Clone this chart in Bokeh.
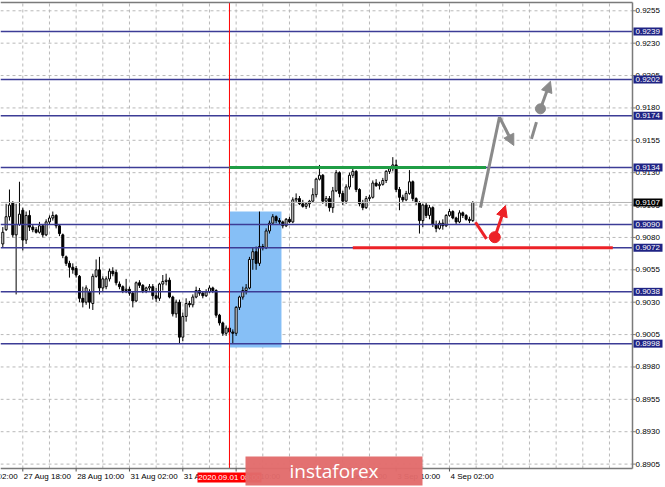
from bokeh.plotting import figure
from bokeh.models import Range1d, Arrow, NormalHead, ColumnDataSource
from bokeh.core.properties import value
from bokeh.embed import file_html
from bokeh.resources import INLINE

# ---- hourly candles (bar index 0 = 27 Aug 12:00) ----
opens = [
    0.9075, 0.9086, 0.9096, 0.9107, 0.9082, 0.9090, 0.9101, 0.9078, 0.9097, 0.9088,
    0.9086, 0.9084, 0.9089, 0.9082, 0.9092, 0.9095, 0.9097, 0.9089, 0.9082, 0.9065,
    0.9060, 0.9057, 0.9056, 0.9050, 0.9033, 0.9030, 0.9038, 0.9029, 0.9050, 0.9055,
    0.9041, 0.9042, 0.9048, 0.9054, 0.9053, 0.9044, 0.9042, 0.9039, 0.9040, 0.9037,
    0.9031, 0.9045, 0.9043, 0.9039, 0.9041, 0.9042, 0.9035, 0.9033, 0.9044, 0.9046,
    0.9047, 0.9034, 0.9021, 0.9030, 0.9003, 0.9019, 0.9029, 0.9028, 0.9034, 0.9039,
    0.9037, 0.9035, 0.9038, 0.9041, 0.9039, 0.9020, 0.9014, 0.9006, 0.9010, 0.9007,
    0.9006, 0.9026, 0.9034, 0.9039, 0.9041, 0.9063, 0.9069, 0.9060, 0.9073, 0.9072,
    0.9085, 0.9091, 0.9096, 0.9093, 0.9092, 0.9089, 0.9094, 0.9092, 0.9109, 0.9110,
    0.9106, 0.9104, 0.9106, 0.9108, 0.9113, 0.9125, 0.9128, 0.9108, 0.9110, 0.9103,
    0.9116, 0.9130, 0.9114, 0.9108, 0.9119, 0.9128, 0.9131, 0.9117, 0.9106, 0.9103,
    0.9110, 0.9111, 0.9122, 0.9120, 0.9121, 0.9124, 0.9131, 0.9133, 0.9136, 0.9117,
    0.9111, 0.9109, 0.9114, 0.9123, 0.9110, 0.9107, 0.9093, 0.9105, 0.9097, 0.9103,
    0.9090, 0.9087, 0.9091, 0.9089, 0.9097, 0.9100, 0.9095, 0.9092, 0.9099, 0.9097,
    0.9094, 0.9093,
]
highs = [
    0.9088, 0.9106, 0.9117, 0.9108, 0.9106, 0.9123, 0.9103, 0.9100, 0.9101, 0.9090,
    0.9088, 0.9092, 0.9090, 0.9094, 0.9097, 0.9100, 0.9098, 0.9090, 0.9083, 0.9066,
    0.9062, 0.9060, 0.9058, 0.9051, 0.9042, 0.9043, 0.9040, 0.9052, 0.9063, 0.9065,
    0.9050, 0.9050, 0.9056, 0.9057, 0.9055, 0.9046, 0.9043, 0.9048, 0.9042, 0.9038,
    0.9046, 0.9047, 0.9044, 0.9042, 0.9044, 0.9044, 0.9041, 0.9045, 0.9051, 0.9052,
    0.9049, 0.9035, 0.9032, 0.9032, 0.9022, 0.9033, 0.9031, 0.9036, 0.9042, 0.9041,
    0.9038, 0.9040, 0.9043, 0.9042, 0.9040, 0.9021, 0.9015, 0.9012, 0.9012, 0.9009,
    0.9027, 0.9035, 0.9042, 0.9044, 0.9065, 0.9072, 0.9073, 0.9100, 0.9075, 0.9087,
    0.9093, 0.9098, 0.9097, 0.9095, 0.9093, 0.9095, 0.9096, 0.9111, 0.9114, 0.9112,
    0.9109, 0.9107, 0.9109, 0.9118, 0.9126, 0.9136, 0.9129, 0.9112, 0.9112, 0.9119,
    0.9132, 0.9131, 0.9116, 0.9121, 0.9130, 0.9134, 0.9132, 0.9118, 0.9109, 0.9112,
    0.9113, 0.9124, 0.9125, 0.9123, 0.9126, 0.9132, 0.9134, 0.9142, 0.9140, 0.9119,
    0.9113, 0.9116, 0.9132, 0.9124, 0.9111, 0.9108, 0.9106, 0.9107, 0.9105, 0.9104,
    0.9093, 0.9093, 0.9094, 0.9098, 0.9102, 0.9101, 0.9096, 0.9101, 0.9100, 0.9098,
    0.9096, 0.9108,
]
lows = [
    0.9072, 0.9085, 0.9093, 0.9080, 0.9036, 0.9089, 0.9070, 0.9075, 0.9085, 0.9084,
    0.9083, 0.9083, 0.9080, 0.9081, 0.9090, 0.9093, 0.9087, 0.9081, 0.9064, 0.9058,
    0.9049, 0.9052, 0.9049, 0.9030, 0.9026, 0.9028, 0.9025, 0.9024, 0.9049, 0.9036,
    0.9038, 0.9040, 0.9046, 0.9050, 0.9043, 0.9040, 0.9037, 0.9037, 0.9035, 0.9026,
    0.9030, 0.9041, 0.9037, 0.9037, 0.9039, 0.9032, 0.9030, 0.9031, 0.9039, 0.9043,
    0.9033, 0.9019, 0.9018, 0.8998, 0.9000, 0.9015, 0.9026, 0.9026, 0.9033, 0.9035,
    0.9033, 0.9034, 0.9037, 0.9037, 0.9018, 0.9012, 0.9004, 0.9004, 0.9005, 0.8998,
    0.9004, 0.9024, 0.9032, 0.9036, 0.9040, 0.9055, 0.9055, 0.9058, 0.9070, 0.9071,
    0.9083, 0.9090, 0.9091, 0.9090, 0.9087, 0.9088, 0.9091, 0.9091, 0.9107, 0.9105,
    0.9103, 0.9102, 0.9103, 0.9107, 0.9111, 0.9124, 0.9106, 0.9104, 0.9100, 0.9099,
    0.9115, 0.9111, 0.9105, 0.9106, 0.9117, 0.9126, 0.9115, 0.9104, 0.9101, 0.9102,
    0.9108, 0.9110, 0.9119, 0.9117, 0.9120, 0.9122, 0.9129, 0.9131, 0.9115, 0.9101,
    0.9107, 0.9108, 0.9113, 0.9108, 0.9105, 0.9083, 0.9088, 0.9095, 0.9094, 0.9088,
    0.9084, 0.9086, 0.9086, 0.9088, 0.9096, 0.9094, 0.9090, 0.9091, 0.9095, 0.9093,
    0.9091, 0.9092,
]
closes = [
    0.9084, 0.9096, 0.9105, 0.9082, 0.9090, 0.9098, 0.9078, 0.9097, 0.9088, 0.9086,
    0.9084, 0.9089, 0.9082, 0.9092, 0.9095, 0.9097, 0.9089, 0.9083, 0.9066, 0.9060,
    0.9057, 0.9055, 0.9051, 0.9033, 0.9030, 0.9041, 0.9030, 0.9050, 0.9055, 0.9041,
    0.9048, 0.9048, 0.9054, 0.9052, 0.9045, 0.9042, 0.9039, 0.9040, 0.9037, 0.9031,
    0.9045, 0.9043, 0.9039, 0.9041, 0.9042, 0.9035, 0.9033, 0.9044, 0.9046, 0.9047,
    0.9034, 0.9021, 0.9030, 0.9003, 0.9019, 0.9029, 0.9028, 0.9034, 0.9039, 0.9037,
    0.9035, 0.9038, 0.9041, 0.9039, 0.9020, 0.9014, 0.9006, 0.9010, 0.9007, 0.9006,
    0.9026, 0.9034, 0.9039, 0.9041, 0.9063, 0.9069, 0.9060, 0.9073, 0.9072, 0.9085,
    0.9091, 0.9096, 0.9093, 0.9092, 0.9089, 0.9094, 0.9092, 0.9109, 0.9110, 0.9106,
    0.9104, 0.9106, 0.9108, 0.9113, 0.9125, 0.9128, 0.9108, 0.9110, 0.9103, 0.9116,
    0.9130, 0.9114, 0.9108, 0.9119, 0.9128, 0.9131, 0.9117, 0.9106, 0.9103, 0.9110,
    0.9111, 0.9122, 0.9120, 0.9121, 0.9124, 0.9131, 0.9133, 0.9136, 0.9117, 0.9111,
    0.9109, 0.9114, 0.9123, 0.9110, 0.9107, 0.9093, 0.9105, 0.9097, 0.9103, 0.9090,
    0.9087, 0.9091, 0.9089, 0.9097, 0.9100, 0.9095, 0.9092, 0.9099, 0.9097, 0.9094,
    0.9093, 0.9107,
]

# ---- scale ticks ----
price_ticks = [0.8905, 0.8930, 0.8955, 0.8980, 0.9005, 0.9030, 0.9055, 0.9080,
               0.9105, 0.9130, 0.9155, 0.9180, 0.9205, 0.9230, 0.9255]
time_ticks = [-10, 6, 22, 38, 54, 70, 86, 102, 118, 134]
time_labels = ["27 Aug 02:00", "27 Aug 18:00", "28 Aug 10:00", "31 Aug 02:00",
               "31 Aug 18:00", "1 Sep 10:00", "2 Sep 02:00", "2 Sep 18:00",
               "3 Sep 10:00", "4 Sep 02:00"]
grid_ticks = [6, 14, 22, 30, 38, 46, 54, 62, 70, 78, 86, 94, 102, 110, 118,
              126, 134, 142, 150, 158, 166, 174, 182]
session_bar = 68
session_label = "2020.09.01 08:00"

# ---- analysis levels and drawings ----
level_prices = [0.9239, 0.9202, 0.9174, 0.9134, 0.9090, 0.9072, 0.9038, 0.8998]
zone_bars = [68, 83.6]
zone_prices = [0.8995, 0.9100]
resistance_bars = [68, 145]
resistance_price = 0.9134
support_bars = [105, 183]
support_price = 0.9072
bull_path_bars = [143.3, 149.0, 153.3]
bull_path_prices = [0.9103, 0.9173, 0.9151]
bull_dash_bars = [158.6, 160.1]
bull_dash_prices = [0.91561, 0.91690]
bull_dot = [161.3, 0.91793]
bull_target = [164.3, 0.92006]
bear_path_bars = [141.8, 145.1]
bear_path_prices = [0.90917, 0.90789]
bear_dot = [147.6, 0.90802]
bear_target = [150.8, 0.91046]

# ---- geometry: chart area inside a 665x487 canvas ----
W, H = 665, 487
AREA_R, AREA_T, AREA_B = 632, 2, 468          # chart area edges in pixels
X_LEFT, X_RIGHT = -0.69, 188.91               # bars visible in the chart area
Y_BOT, Y_TOP = 0.89016, 0.92614               # prices visible in the chart area
BAR_PX = AREA_R / (X_RIGHT - X_LEFT)
PRICE_PX = (AREA_B - AREA_T) / (Y_TOP - Y_BOT)


def bx(px):
    """canvas pixel column -> bar coordinate"""
    return X_LEFT + px / BAR_PX


def py(px):
    """canvas pixel row -> price coordinate"""
    return Y_TOP - (px - AREA_T) / PRICE_PX


NAVY = "#1f2384"
LEVEL = "#3c3c96"
GRAY = "#8a8a8a"
RED = "#ec2227"
GREEN = "#1f9d45"
FRAME = "#7a7a7a"
FONT = value("Liberation Sans")

p = figure(width=W, height=H,
           x_range=Range1d(bx(0), bx(W)), y_range=Range1d(py(H), py(0)),
           x_axis_location=None, y_axis_location=None,
           output_backend="svg", toolbar_location=None, min_border=0,
           background_fill_color="white", border_fill_color="white")
p.outline_line_color = None
p.grid.visible = False

# dashed grid
n_g, n_p = len(grid_ticks), len(price_ticks)
p.segment(x0=grid_ticks, y0=[Y_BOT] * n_g, x1=grid_ticks, y1=[Y_TOP] * n_g,
          line_color="#b8b8b8", line_dash="3 3", line_width=1)
p.segment(x0=[X_LEFT] * n_p, y0=price_ticks, x1=[X_RIGHT] * n_p, y1=price_ticks,
          line_color="#b8b8b8", line_dash="3 3", line_width=1)

# highlighted impulse zone
p.quad(left=[zone_bars[0]], right=[zone_bars[1]],
       bottom=[zone_prices[0]], top=[zone_prices[1]],
       fill_color="#86bff6", line_color=None)

# candles
idx = list(range(len(closes)))
up = [i for i in idx if closes[i] >= opens[i]]
dn = [i for i in idx if closes[i] < opens[i]]
src = ColumnDataSource(dict(x=idx, h=highs, l=lows))
p.segment(x0="x", y0="l", x1="x", y1="h", source=src, line_color="black", line_width=1)
p.vbar(x=up, width=0.6, top=[closes[i] for i in up], bottom=[opens[i] for i in up],
       fill_color="white", line_color="black", line_width=1)
p.vbar(x=dn, width=0.6, top=[opens[i] for i in dn], bottom=[closes[i] for i in dn],
       fill_color="black", line_color="black", line_width=1)

# horizontal levels, current price line, session separator
n_l = len(level_prices)
p.segment(x0=[X_LEFT] * n_l, y0=level_prices, x1=[X_RIGHT] * n_l, y1=level_prices,
          line_color=LEVEL, line_width=1.5)
last_price = closes[-1]
p.segment(x0=[X_LEFT], y0=[last_price], x1=[X_RIGHT], y1=[last_price],
          line_color="#b4b4b4", line_width=1)
p.segment(x0=[session_bar], y0=[Y_BOT], x1=[session_bar], y1=[Y_TOP],
          line_color="#ff0000", line_width=1)

# resistance / support segments
p.segment(x0=[resistance_bars[0]], y0=[resistance_price], x1=[resistance_bars[1]],
          y1=[resistance_price], line_color=GREEN, line_width=3)
p.segment(x0=[support_bars[0]], y0=[support_price], x1=[support_bars[1]],
          y1=[support_price], line_color=RED, line_width=3)

# bullish scenario
p.line(bull_path_bars[:2], bull_path_prices[:2], line_color=GRAY, line_width=3)
p.add_layout(Arrow(end=NormalHead(size=11, fill_color=GRAY, line_color=GRAY),
                   x_start=bull_path_bars[1], y_start=bull_path_prices[1],
                   x_end=bull_path_bars[2], y_end=bull_path_prices[2],
                   line_color=GRAY, line_width=3))
p.line(bull_dash_bars, bull_dash_prices, line_color=GRAY, line_width=3)
p.scatter([bull_dot[0]], [bull_dot[1]], size=10, fill_color=GRAY, line_color=GRAY)
p.add_layout(Arrow(end=NormalHead(size=11, fill_color=GRAY, line_color=GRAY),
                   x_start=bull_dot[0], y_start=bull_dot[1],
                   x_end=bull_target[0], y_end=bull_target[1],
                   line_color=GRAY, line_width=3))

# bearish scenario
p.line(bear_path_bars, bear_path_prices, line_color=RED, line_width=3)
p.scatter([bear_dot[0]], [bear_dot[1]], size=11, fill_color=RED, line_color=RED)
p.add_layout(Arrow(end=NormalHead(size=11, fill_color=RED, line_color=RED),
                   x_start=bear_dot[0], y_start=bear_dot[1],
                   x_end=bear_target[0], y_end=bear_target[1],
                   line_color=RED, line_width=3))

# chart area border
p.segment(x0=[X_LEFT, X_RIGHT, X_LEFT], y0=[Y_TOP, Y_TOP, Y_BOT],
          x1=[X_RIGHT, X_RIGHT, X_RIGHT], y1=[Y_TOP, Y_BOT, Y_BOT],
          line_color=FRAME, line_width=1.5)

# price scale: ticks and labels
p.segment(x0=[X_RIGHT] * n_p, y0=price_ticks, x1=[bx(AREA_R + 3)] * n_p, y1=price_ticks,
          line_color=FRAME, line_width=1)
p.text(x=[bx(AREA_R + 3)] * n_p, y=price_ticks, text=[f"{v:.4f}" for v in price_ticks],
       text_font=FONT, text_font_size="8px", text_color="black",
       text_align="left", text_baseline="middle")

# level tags on the price scale
tag_half = 4 / PRICE_PX
p.quad(left=[bx(AREA_R + 1)] * n_l, right=[bx(W - 3)] * n_l,
       bottom=[v - tag_half for v in level_prices], top=[v + tag_half for v in level_prices],
       fill_color=NAVY, line_color=None)
p.text(x=[bx(AREA_R + 3)] * n_l, y=level_prices, text=[f"{v:.4f}" for v in level_prices],
       text_font=FONT, text_font_size="8px", text_color="white",
       text_align="left", text_baseline="middle")
p.quad(left=[bx(AREA_R + 1)], right=[bx(W - 3)],
       bottom=[last_price - tag_half], top=[last_price + tag_half],
       fill_color="black", line_color=None)
p.text(x=[bx(AREA_R + 3)], y=[last_price], text=[f"{last_price:.4f}"],
       text_font=FONT, text_font_size="8px", text_color="white",
       text_align="left", text_baseline="middle")

# time scale: ticks and left-aligned labels
n_t = len(time_ticks)
p.segment(x0=time_ticks, y0=[Y_BOT] * n_t, x1=time_ticks, y1=[py(AREA_B + 3)] * n_t,
          line_color="#555555", line_width=1)
p.text(x=time_ticks, y=[py(AREA_B + 3)] * n_t, text=time_labels, x_offset=1,
       text_font=FONT, text_font_size="8px", text_color="black",
       text_align="left", text_baseline="top")

# session start tag
p.quad(left=[bx(197)], right=[bx(261)], top=[py(472)], bottom=[py(482)],
       fill_color="#ff0000", line_color=None)
p.text(x=[session_bar], y=[py(477)], text=[session_label],
       text_font=FONT, text_font_size="8px", text_color="white",
       text_align="center", text_baseline="middle")

# brand badge
p.quad(left=[bx(245)], right=[bx(422)], top=[py(456)], bottom=[py(485)],
       fill_color="#e26b6b", fill_alpha=0.96, line_color=None)
p.text(x=[bx(333.5)], y=[py(470)], text=["instaforex"],
       text_font=value("Open Sans"), text_font_size="19px", text_color="white",
       text_align="center", text_baseline="middle")

open("out.html", "w").write(file_html(p, INLINE))
